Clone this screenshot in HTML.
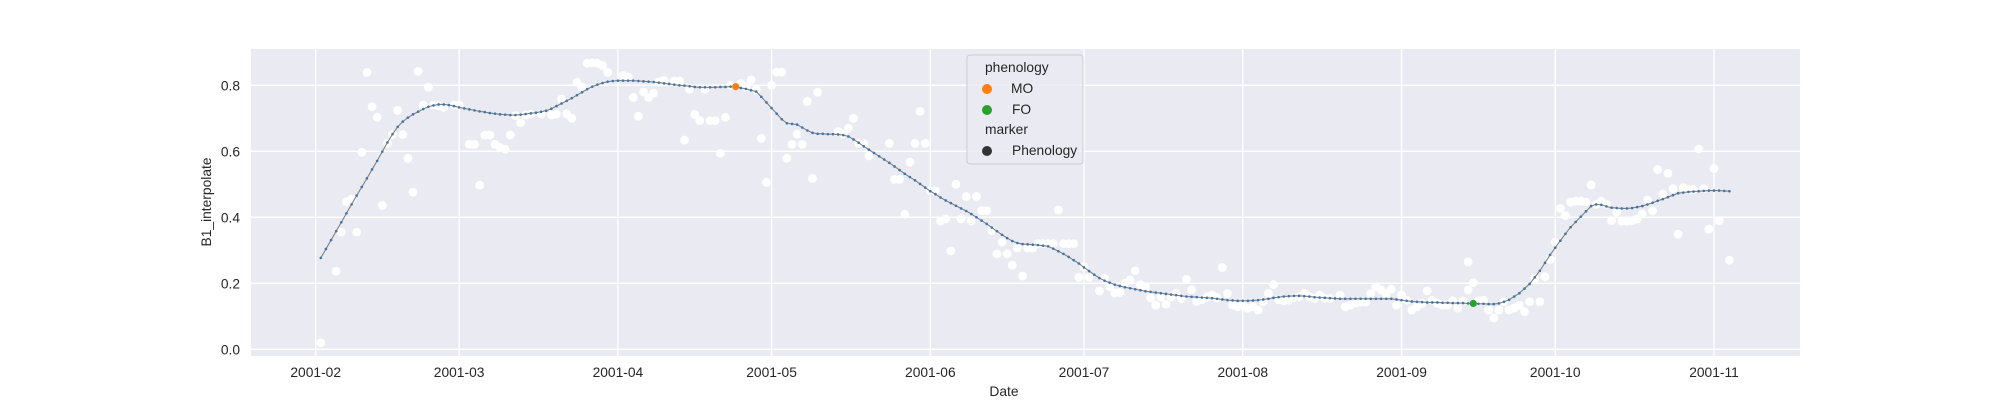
<!DOCTYPE html>
<html><head><meta charset="utf-8">
<style>
html,body{margin:0;padding:0;background:#fff;}
svg{display:block;font-family:"Liberation Sans",Arial,sans-serif;}
</style></head>
<body>
<svg id="chart" width="2000" height="400" viewBox="0 0 2000 400">
  <rect x="251" y="49" width="1549" height="307" fill="#eaeaf2"/>
  <g id="grid"></g>
  <g id="xticks"></g>
  <g id="yticks"></g>
  <g id="obs"></g>
  <g id="line"></g>
  <g id="pheno"></g>
  <text x="1004" y="396" font-size="13.8" fill="#262626" text-anchor="middle">Date</text>
  <text x="0" y="0" font-size="13.8" fill="#262626" text-anchor="middle" transform="translate(211,202) rotate(-90)">B1_interpolate</text>
  <g>
    <rect x="967" y="55" width="116" height="109" rx="3" fill="#eaeaf2" fill-opacity="0.8" stroke="#cccccc" stroke-width="1"/>
    <text x="985" y="72" font-size="13.8" fill="#262626">phenology</text>
    <circle cx="987" cy="89" r="5" fill="#ff7f0e"/>
    <text x="1011" y="93" font-size="13.8" fill="#262626">MO</text>
    <circle cx="987" cy="110" r="5" fill="#2ca02c"/>
    <text x="1012" y="114" font-size="13.8" fill="#262626">FO</text>
    <text x="985" y="134" font-size="13.8" fill="#262626">marker</text>
    <circle cx="987" cy="151" r="5" fill="#333333"/>
    <text x="1012" y="155" font-size="13.8" fill="#262626">Phenology</text>
  </g>
</svg>
<script>
const tickLabels = ["2001-02","2001-03","2001-04","2001-05","2001-06","2001-07","2001-08","2001-09","2001-10","2001-11"];
const tickDays = [0,28,59,89,120,150,181,212,242,273];
const yTicks = [0.0,0.2,0.4,0.6,0.8];
const lineStartDay = 1;
const lineVals = [.277,.304,.331,.358,.385,.412,.439,.466,.492,.518,.545,.571,.599,.627,.652,.674,.690,.702,.712,.720,
.728,.735,.739,.742,.742,.740,.737,.733,.730,.727,.724,.721,.719,.716,.714,.712,.711,.710,.710,.711,
.713,.715,.717,.720,.723,.729,.737,.745,.753,.761,.770,.779,.788,.796,.802,.807,.811,.813,.814,.814,
.814,.814,.813,.812,.811,.810,.808,.806,.804,.802,.800,.799,.797,.795,.794,.794,.794,.794,.795,.795,
.796,.796,.792,.789,.785,.781,.765,.748,.731,.714,.697,.685,.683,.681,.672,.663,.656,.653,.653,.652,
.652,.651,.649,.645,.636,.626,.615,.605,.595,.585,.575,.565,.554,.543,.532,.522,.512,.501,.490,.479,
.470,.460,.451,.443,.435,.427,.419,.410,.400,.390,.380,.369,.358,.347,.337,.328,.322,.319,.318,.317,
.316,.314,.312,.305,.297,.289,.280,.270,.260,.248,.237,.226,.216,.208,.202,.196,.192,.188,.185,.182,
.179,.176,.174,.172,.170,.168,.166,.164,.162,.160,.159,.158,.157,.156,.155,.153,.151,.149,.148,.147,
.147,.147,.148,.149,.151,.153,.156,.158,.160,.161,.162,.162,.161,.160,.158,.157,.156,.155,.154,.153,
.153,.153,.153,.153,.153,.153,.153,.153,.153,.153,.151,.149,.147,.145,.144,.143,.142,.142,.142,.141,
.141,.140,.140,.140,.139,.139,.138,.138,.137,.137,.139,.144,.150,.160,.170,.184,.198,.218,.238,.262,
.286,.308,.329,.350,.370,.386,.402,.418,.434,.439,.438,.433,.429,.428,.427,.427,.428,.431,.434,.439,
.444,.450,.455,.461,.467,.473,.475,.477,.478,.479,.480,.481,.481,.481,.480,.479];
const obsDays = [1,4,5,6,7,8,9,10,11,12,13,14,15,16,17,18,19,20,21,22,23,24,25,27,28,30,31,32,33,34,35,36,37,38,39,40,41,42,44,46,47,48,49,50,51,52,53,54,55,56,57,60,61,62,63,64,65,
66,67,68,70,71,72,73,74,75,76,77,78,79,80,81,83,84,85,86,87,88,89,90,91,92,93,94,95,96,97,98,102,103,104,105,106,107,108,112,113,114,115,116,117,118,119,120,121,122,123,124,125,126,127,128,129,130,131,132,133,134,135,136,137,138,139,140,141,142,143,
144,145,146,147,148,149,150,151,153,154,155,156,157,158,159,160,161,162,163,164,165,166,167,168,169,170,171,172,173,174,175,176,177,178,179,180,181,182,183,184,185,186,187,188,189,190,191,192,193,194,195,196,197,198,200,201,202,203,204,205,206,207,208,209,210,211,212,213,214,215,216,217,218,219,
220,221,222,223,224,225,225,226,227,228,229,230,231,232,233,234,235,236,237,238,239,240,241,242,243,244,245,246,247,248,249,250,251,252,253,254,255,256,257,258,259,260,261,262,263,264,265,266,267,268,269,270,271,272,273,274,276];
const obsVals = [.02,.237,.355,.447,.455,.355,.597,.839,.735,.703,.436,.625,.651,.724,.651,.579,.476,.842,.740,.794,.740,.738,.733,.740,.740,.621,.621,.497,.649,.649,.621,.611,.606,.649,.708,.687,.710,.713,.713,.710,.713,.758,.713,.700,.809,.794,.867,.868,.867,.860,.839,.830,.825,.763,.706,.780,.763,
.776,.810,.815,.813,.813,.634,.788,.712,.693,.788,.693,.693,.594,.703,.800,.805,.795,.816,.787,.639,.506,.800,.840,.840,.579,.621,.652,.621,.751,.518,.779,.660,.652,.670,.700,.624,.624,.586,.624,.515,.515,.409,.567,.624,.721,.624,.480,.480,.389,.395,.298,.500,.395,.463,.389,.463,.420,.420,.360,.289,.325,.289,.255,.307,.222,.307,.307,.320,.320,.320,
.320,.422,.320,.320,.320,.218,.250,.218,.177,.215,.190,.171,.172,.200,.210,.238,.196,.188,.156,.134,.159,.137,.159,.169,.154,.212,.180,.145,.150,.159,.164,.156,.248,.169,.134,.129,.134,.124,.129,.119,.144,.169,.196,.150,.147,.149,.156,.159,.169,.159,.154,.164,.154,.154,.164,.129,.134,.140,.143,.143,.169,.190,.180,.169,.182,.134,.165,.149,.119,.129,.139,.177,.149,.139,
.134,.134,.147,.125,.147,.180,.265,.202,.147,.149,.119,.095,.119,.144,.119,.125,.134,.114,.144,.214,.144,.220,.272,.325,.427,.405,.446,.449,.449,.446,.498,.439,.449,.440,.390,.416,.388,.388,.390,.395,.410,.452,.420,.545,.470,.533,.487,.349,.490,.484,.484,.607,.487,.364,.548,.390,.270];
const phenoDays = [82,226];
const phenoVals = [0.796,0.139];
const phenoColors = ["#ff7f0e","#2ca02c"];
const phenoNames = ["mo-point","fo-point"];

const NS = "http://www.w3.org/2000/svg";
const X0 = 315.7, PXD = 5.122, Y0 = 349.3, PXV = 330;
function xs(d){ return X0 + d*PXD; }
function ys(v){ return Y0 - v*PXV; }
function mk(tag, attrs, parent){ const e = document.createElementNS(NS, tag); for (const k in attrs) e.setAttribute(k, attrs[k]); parent.appendChild(e); return e; }

const grid = document.getElementById('grid');
const xt = document.getElementById('xticks');
const yt = document.getElementById('yticks');
tickDays.forEach((d,i)=>{
  const l = mk('line',{x1:xs(d),x2:xs(d),y1:49,y2:356,stroke:'#fff','stroke-width':1.4},grid);
  
  
  const t = mk('text',{x:xs(d),y:377,'font-size':13.8,fill:'#262626','text-anchor':'middle'},xt);
  t.textContent = tickLabels[i];
  
  
});
yTicks.forEach(v=>{
  const l = mk('line',{x1:251,x2:1800,y1:ys(v),y2:ys(v),stroke:'#fff','stroke-width':1.4},grid);
  
  
  const t = mk('text',{x:240,y:ys(v)+5,'font-size':13.8,fill:'#262626','text-anchor':'end'},yt);
  t.textContent = v.toFixed(1);
  
  
});

const obsG = document.getElementById('obs');
obsDays.forEach((d,i)=>{
  const c = mk('circle',{cx:xs(d),cy:ys(obsVals[i]),r:4.4,fill:'#ffffff'},obsG);
  
  
});

const lineG = document.getElementById('line');
const pts = lineVals.map((v,i)=>xs(lineStartDay+i).toFixed(2)+','+ys(v).toFixed(2)).join(' ');
const pl = mk('polyline',{points:pts,fill:'none',stroke:'#808080','stroke-width':1.1},lineG);


lineVals.forEach((v,i)=>{
  const c = mk('circle',{cx:xs(lineStartDay+i),cy:ys(v),r:1.3,fill:'#3f75a8'},lineG);
  
  
});

const phG = document.getElementById('pheno');
phenoDays.forEach((d,i)=>{
  const c = mk('circle',{cx:xs(d),cy:ys(phenoVals[i]),r:3.6,fill:phenoColors[i]},phG);
  
  
});
</script>
</body></html>
